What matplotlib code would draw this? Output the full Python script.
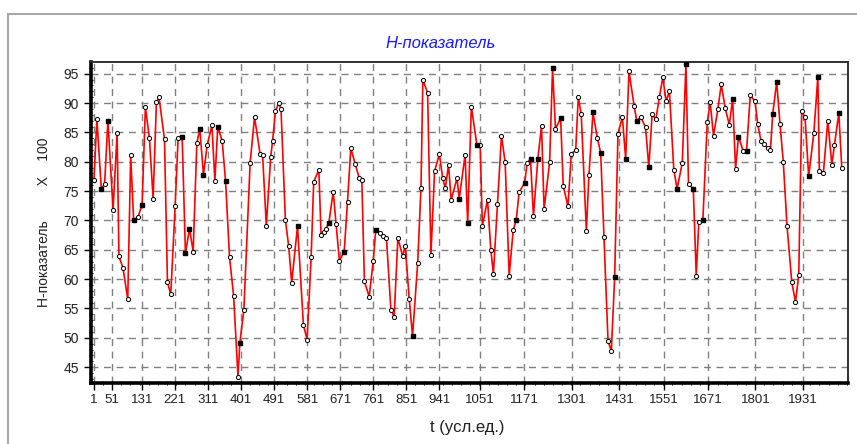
import matplotlib
matplotlib.use("Agg")
import matplotlib.pyplot as plt
from matplotlib.patches import Rectangle
from matplotlib.ticker import FixedLocator, MultipleLocator

plt.rcParams['font.family'] = ['Liberation Sans', 'DejaVu Sans']

# time points (conventional units) and H-index x 100
t = [1, 9, 21, 30, 39, 53, 64, 69, 80, 93, 101, 109, 121, 132, 141, 152, 162, 171, 178, 193,
     201, 210, 222, 230, 241, 250, 261, 271, 281, 289, 299, 309, 322, 330, 338, 350, 359, 370, 381, 393,
     398, 409, 426, 438, 453, 460, 470, 482, 487, 495, 504, 510, 522, 531, 539, 555, 571, 581, 592, 599,
     613, 619, 626, 632, 640, 652, 660, 669, 682, 691, 700, 712, 723, 730, 737, 750, 761, 768, 780, 788,
     797, 809, 818, 828, 841, 848, 859, 868, 882, 891, 896, 909, 918, 928, 941, 950, 957, 966, 973, 989,
     995, 1011, 1018, 1028, 1043, 1052, 1058, 1072, 1081, 1088, 1099, 1110, 1120, 1131, 1142, 1150, 1158, 1173, 1180, 1189,
     1197, 1209, 1219, 1226, 1241, 1249, 1257, 1271, 1278, 1291, 1300, 1312, 1319, 1327, 1341, 1348, 1359, 1371, 1380, 1389,
     1400, 1409, 1418, 1427, 1439, 1448, 1457, 1471, 1478, 1489, 1502, 1511, 1520, 1530, 1540, 1549, 1558, 1567, 1579, 1588,
     1602, 1612, 1619, 1632, 1640, 1647, 1658, 1670, 1678, 1687, 1699, 1708, 1719, 1730, 1739, 1747, 1755, 1768, 1777, 1787,
     1800, 1807, 1816, 1825, 1834, 1842, 1848, 1859, 1868, 1877, 1887, 1900, 1910, 1919, 1927, 1936, 1946, 1960, 1971, 1975,
     1986, 1998, 2009, 2016, 2028, 2036]
h = [76.9, 87.3, 75.4, 76.2, 87.0, 71.8, 84.9, 63.9, 61.9, 56.6, 81.1, 70.0, 70.6, 72.7, 89.3, 84.0, 73.7, 90.1, 91.0, 83.8,
     59.5, 57.4, 72.5, 84.0, 84.3, 64.4, 68.6, 64.7, 83.2, 85.6, 77.8, 82.8, 86.2, 76.8, 86.0, 83.5, 76.8, 63.7, 57.2, 43.4,
     49.1, 54.8, 79.8, 87.6, 81.4, 81.1, 69.1, 80.8, 83.5, 88.7, 90.0, 89.0, 70.0, 65.6, 59.4, 69.0, 52.2, 49.7, 63.7, 76.6,
     78.6, 67.6, 68.0, 68.6, 69.5, 74.9, 69.4, 63.1, 64.7, 73.2, 82.3, 79.6, 77.2, 76.9, 59.6, 57.0, 63.1, 68.4, 67.8, 67.4,
     67.0, 54.8, 53.6, 67.0, 63.9, 65.7, 56.6, 50.3, 62.8, 75.6, 94.0, 91.7, 64.1, 78.4, 81.3, 77.2, 75.5, 79.5, 73.5, 77.2,
     73.7, 81.2, 69.5, 89.4, 82.9, 82.9, 69.1, 73.5, 65.0, 60.9, 72.8, 84.4, 79.9, 60.6, 68.4, 70.0, 74.8, 76.4, 79.8, 80.5,
     70.7, 80.5, 86.1, 71.9, 79.9, 95.9, 85.6, 87.4, 75.9, 72.4, 81.3, 82.0, 91.0, 88.1, 68.2, 77.7, 88.4, 84.0, 81.5, 67.1,
     49.4, 47.8, 60.3, 84.8, 87.6, 80.5, 95.4, 89.5, 87.0, 87.6, 85.9, 79.1, 88.1, 87.2, 91.1, 94.4, 90.3, 92.0, 78.6, 75.4,
     79.8, 96.6, 76.2, 75.4, 60.6, 69.7, 70.0, 86.7, 90.1, 84.4, 89.0, 93.2, 89.1, 86.3, 90.7, 78.8, 84.3, 81.8, 81.9, 91.3,
     90.3, 86.5, 83.6, 83.0, 82.4, 82.0, 88.1, 93.6, 86.4, 79.9, 69.1, 59.5, 56.1, 60.7, 88.6, 87.6, 77.5, 84.9, 94.5, 78.4,
     78.1, 87.0, 79.5, 82.8, 88.3, 79.0]
# points drawn with a filled marker instead of a hollow one
t_solid = [21, 39, 109, 132, 241, 250, 261, 289, 299, 338, 359, 398, 555, 640, 682, 768, 868, 995, 1018, 1043,
           1150, 1173, 1189, 1209, 1249, 1271, 1359, 1380, 1418, 1448, 1478, 1511, 1588, 1612, 1632, 1658, 1739, 1755,
           1777, 1848, 1859, 1946, 1971, 2028]

x_ticks = [1, 51, 131, 221, 311, 401, 491, 581, 671, 761, 851, 941, 1051, 1171, 1301, 1431, 1551, 1671, 1801, 1931]
y_ticks = [45, 50, 55, 60, 65, 70, 75, 80, 85, 90, 95]

fig = plt.figure(figsize=(8.57, 4.44), dpi=100)
ax = fig.add_axes([0.1062, 0.1374, 0.8833, 0.7230])

# outer frame of the window (only top and left visible)
fig.patches.append(Rectangle((8 / 857, -0.1), 1.2, 1 - 14 / 444 + 0.1, transform=fig.transFigure,
                             fill=False, edgecolor='#a8a8a8', linewidth=1.5))

ax.plot(t, h, color='red', linewidth=1.2, zorder=3)
hollow = [(a, b) for a, b in zip(t, h) if a not in t_solid]
solid = [(a, b) for a, b in zip(t, h) if a in t_solid]
ax.plot([p[0] for p in hollow], [p[1] for p in hollow], linestyle='none', marker='o', markersize=3,
        markerfacecolor='white', markeredgecolor='black', markeredgewidth=0.7, zorder=4)
ax.plot([p[0] for p in solid], [p[1] for p in solid], linestyle='none', marker='s', markersize=2.4,
        markerfacecolor='black', markeredgecolor='black', zorder=4)

ax.set_xlim(-7, 2053)
ax.set_ylim(42.3, 97.0)
ax.xaxis.set_major_locator(FixedLocator(x_ticks))
ax.yaxis.set_major_locator(FixedLocator(y_ticks))
ax.xaxis.set_minor_locator(MultipleLocator(25))
ax.yaxis.set_minor_locator(MultipleLocator(1))
ax.grid(True, which='major', linestyle=(0, (5, 4)), color='#808080', linewidth=1.0)
ax.set_axisbelow(True)

ax.tick_params(axis='both', which='major', labelsize=10, labelcolor='#202020', length=5, width=1, color='black')
ax.tick_params(axis='x', which='major', labelsize=9.5, pad=3)
ax.tick_params(axis='both', which='minor', length=3, width=0.8, color='black', direction='inout')

for side in ['left', 'bottom']:
    ax.spines[side].set_linewidth(2.6)
    ax.spines[side].set_color('black')
for side in ['top', 'right']:
    ax.spines[side].set_linewidth(1.4)
    ax.spines[side].set_color('#303030')

fig.text(441 / 857, 1 - 43 / 444, 'H-показатель', color='#1a1aff', fontsize=12, style='italic',
         ha='center', va='center')
fig.text(44 / 857, 1 - 222 / 444, 'H-показатель' + ' ' * 9 + 'X' + ' ' * 4 + '100', rotation=90,
         fontsize=10, color='#202020', ha='center', va='center')
fig.text(467 / 857, 1 - 427 / 444, 't (усл.ед.)', fontsize=12, color='#202020', ha='center', va='center')

fig.savefig('out.png', dpi=100)
